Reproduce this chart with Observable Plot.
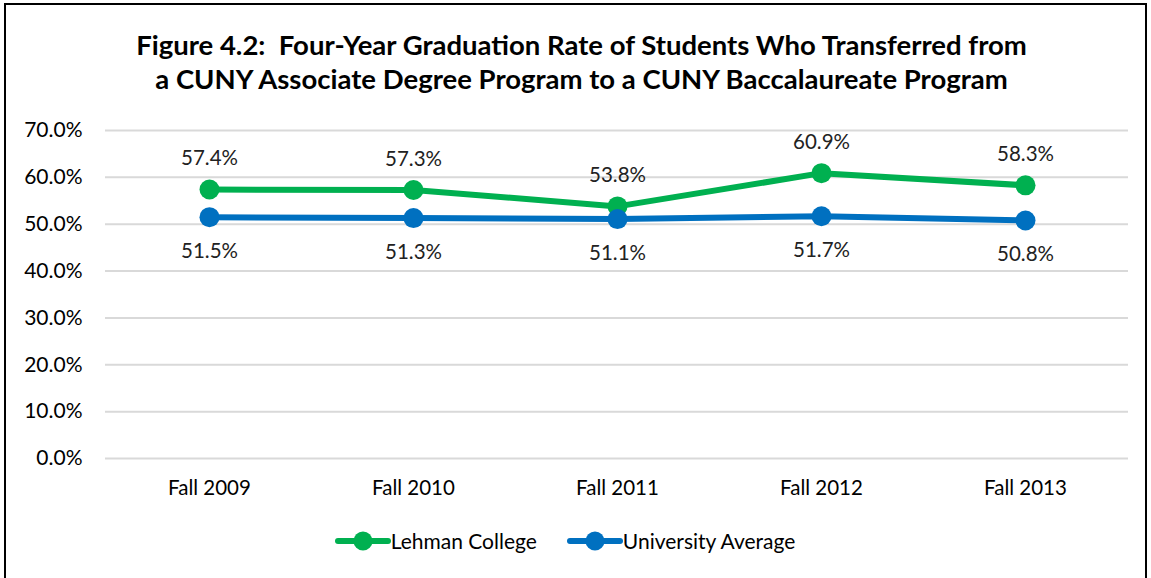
<!DOCTYPE html>
<html><head><meta charset="utf-8">
<script src="https://cdn.jsdelivr.net/npm/d3@7"></script>
<script src="https://cdn.jsdelivr.net/npm/@observablehq/plot@0.6"></script>
<style>
html,body{margin:0;padding:0;background:#fff;overflow:hidden;}
#frame{position:absolute;left:4px;top:3px;width:1143px;height:620px;border:2px solid #000;box-sizing:border-box;}
#title{position:absolute;left:0;top:28px;width:1163px;text-align:center;font-family:Lato,sans-serif;font-weight:bold;font-size:27.5px;line-height:34px;color:#000;}
#chart{position:absolute;left:0;top:110px;}
#legend{position:absolute;left:0;top:528px;width:1130px;display:flex;justify-content:center;gap:30px;font-family:Lato,sans-serif;font-size:21px;color:#000;}
.item{display:flex;align-items:center;}
</style></head>
<body>
<div id="frame"></div>
<div id="title">Figure 4.2:&nbsp; Four-Year Graduation Rate of Students Who Transferred from<br>a CUNY Associate Degree Program to a CUNY Baccalaureate Program</div>
<div id="chart"></div>
<div id="legend"></div>
<script>
const categories = ["Fall 2009","Fall 2010","Fall 2011","Fall 2012","Fall 2013"];
const lehman = [57.4,57.3,53.8,60.9,58.3];
const university = [51.5,51.3,51.1,51.7,50.8];
const seriesNames = ["Lehman College","University Average"];
const colors = ["#00B050","#0070C0"];
const yTicks = [0,10,20,30,40,50,60,70];

const data = [];
categories.forEach((c,i)=>{
  data.push({cat:c, series:seriesNames[0], v:lehman[i]});
  data.push({cat:c, series:seriesNames[1], v:university[i]});
});
const topRows = data.filter(d=>d.series===seriesNames[0]);
const botRows = data.filter(d=>d.series===seriesNames[1]);

const chart = Plot.plot({
  width:1151, height:398,
  marginLeft:105, marginRight:23, marginTop:20, marginBottom:50,
  style:{fontFamily:"Lato, sans-serif", fontSize:"20.5px", color:"#000", background:"transparent"},
  x:{type:"point", domain:categories, padding:0.5, label:null},
  y:{domain:[0,70], ticks:yTicks, label:null},
  color:{domain:seriesNames, range:colors},
  marks:[
    Plot.gridY(yTicks,{stroke:"#d9d9d9", strokeOpacity:1, strokeWidth:2}),
    Plot.axisY(yTicks,{tickSize:0, tickPadding:23, tickFormat:d=>d.toFixed(1)+"%", fontSize:21, fill:"#000"}),
    Plot.axisX({tickSize:0, tickPadding:22, fontSize:20.5, fill:"#000"}),
    Plot.line(data,{x:"cat", y:"v", z:"series", stroke:"series", strokeWidth:6}),
    Plot.dot(data,{x:"cat", y:"v", fill:"series", r:10}),
    Plot.text(topRows,{x:"cat", y:"v", text:d=>d.v.toFixed(1)+"%", dy:-31, fontSize:20.5, fill:"#222"}),
    Plot.text(botRows,{x:"cat", y:"v", text:d=>d.v.toFixed(1)+"%", dy:34, fontSize:20.5, fill:"#222"})
  ]
});
document.getElementById("chart").appendChild(chart);

const legend = document.getElementById("legend");
seriesNames.forEach((n,i)=>{
  const it = document.createElement("div"); it.className="item";
  it.innerHTML = `<svg width="56" height="24"><line x1="3" y1="12" x2="53" y2="12" stroke="${colors[i]}" stroke-width="6" stroke-linecap="round"/><circle cx="28" cy="12" r="9.5" fill="${colors[i]}"/></svg><span>${n}</span>`;
  legend.appendChild(it);
});
</script>
</body></html>
